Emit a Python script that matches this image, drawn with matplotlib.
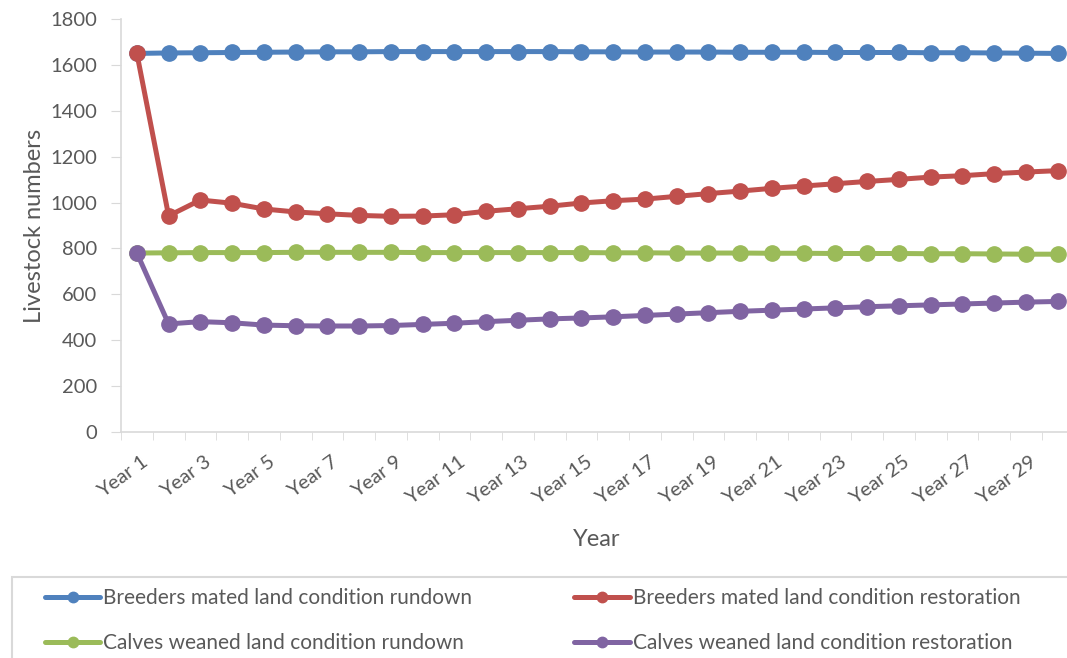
import matplotlib

matplotlib.use("Agg")
import matplotlib.pyplot as plt
import matplotlib.transforms as mtransforms
from matplotlib.patches import Rectangle
import numpy as np

plt.rcParams["font.family"] = ["Lato", "DejaVu Sans"]

TEXT_COLOR = "#595959"
AXIS_COLOR = "#d9d9d9"

years = [f"Year {i}" for i in range(1, 31)]

breeders_rundown = [
    1650, 1652, 1653, 1654, 1655, 1656, 1657, 1657, 1658, 1658,
    1658, 1658, 1658, 1658, 1657, 1657, 1656, 1656, 1656, 1655,
    1655, 1655, 1654, 1654, 1654, 1653, 1653, 1652, 1651, 1650,
]
breeders_restoration = [
    1650, 942, 1011, 997, 972, 959, 951, 944, 940, 941,
    947, 962, 973, 984, 998, 1008, 1015, 1027, 1039, 1050,
    1062, 1072, 1082, 1092, 1101, 1111, 1117, 1126, 1133, 1139,
]
calves_rundown = [
    780, 781, 782, 782, 782, 783, 783, 783, 783, 782,
    782, 782, 782, 782, 782, 781, 781, 780, 780, 780,
    779, 779, 778, 778, 778, 777, 777, 776, 775, 775,
]
calves_restoration = [
    780, 471, 481, 476, 466, 463, 462, 462, 464, 469,
    474, 481, 487, 493, 497, 502, 508, 514, 520, 526,
    531, 536, 541, 546, 550, 554, 558, 562, 566, 569,
]

series = [
    ("Breeders mated land condition rundown", breeders_rundown, "#4f81bd"),
    ("Breeders mated land condition restoration", breeders_restoration, "#c0504d"),
    ("Calves weaned land condition rundown", calves_rundown, "#9bbb59"),
    ("Calves weaned land condition restoration", calves_restoration, "#8064a2"),
]

fig = plt.figure(figsize=(10.67, 6.58), dpi=100)
W, H = 1067, 658
ax = fig.add_axes([121 / W, 1 - 432 / H, (1073.5 - 121) / W, (432 - 19) / H])

x = np.arange(len(years))
handles = []
for label, values, color in series:
    (line,) = ax.plot(x, values, color=color, linewidth=3.6, marker="o",
                      markersize=11, label=label, solid_capstyle="round")
    handles.append(line)

ax.set_xlim(-0.5, len(years) - 0.5)
ax.set_ylim(0, 1800)
ax.set_yticks(np.arange(0, 1801, 200))
ax.tick_params(axis="y", labelsize=14.5, colors=TEXT_COLOR, length=7,
               color=AXIS_COLOR, pad=10)

ax.set_xticks(x[::2])
ax.set_xticklabels(years[::2], rotation=36, ha="right", va="top",
                   rotation_mode="anchor", fontsize=14.5, color=TEXT_COLOR)
ax.set_xticks(np.arange(-0.5, len(years)), minor=True)
ax.tick_params(axis="x", which="major", length=0, pad=15)
ax.tick_params(axis="x", which="minor", length=6, color=AXIS_COLOR)
shift = mtransforms.ScaledTranslation(4 / 100, 0, fig.dpi_scale_trans)
for lbl in ax.get_xticklabels():
    lbl.set_transform(lbl.get_transform() + shift)

for side in ("top", "right"):
    ax.spines[side].set_visible(False)
for side in ("left", "bottom"):
    ax.spines[side].set_color(AXIS_COLOR)
    ax.spines[side].set_linewidth(1.2)

ax.set_ylabel("Livestock numbers", fontsize=17, color=TEXT_COLOR, labelpad=4)
fig.text(597 / W, 1 - 540 / H, "Year", fontsize=17, color=TEXT_COLOR,
         ha="center", va="center")

# legend frame runs off the right and bottom edges, as in the reference
fig.add_artist(Rectangle((12 / W, -0.1), 1.1, (1 - 577 / H) + 0.1,
                         transform=fig.transFigure, fill=False,
                         edgecolor=AXIS_COLOR, linewidth=1.5))

# row-wise legend order: matplotlib fills columns first
order = [0, 2, 1, 3]
leg = fig.legend([handles[i] for i in order], [series[i][0] for i in order],
                 loc="upper left", bbox_to_anchor=(45 / W, 1 - 588 / H),
                 ncol=2, fontsize=15, frameon=False,
                 handlelength=2.65, handletextpad=0.15, columnspacing=4.9,
                 labelspacing=1.19, borderpad=0, borderaxespad=0,
                 markerscale=0.68)
for text in leg.get_texts():
    text.set_color(TEXT_COLOR)

fig.savefig("out.png", dpi=100, facecolor="white")
